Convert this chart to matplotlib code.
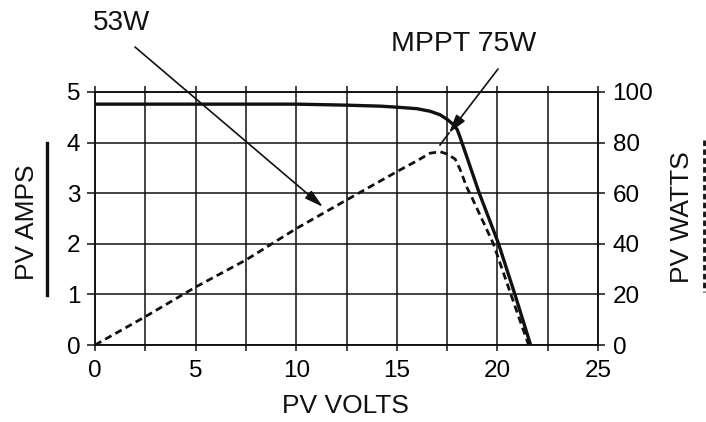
import numpy as np
import matplotlib
matplotlib.use("Agg")
import matplotlib.pyplot as plt
from matplotlib.lines import Line2D

plt.rcParams['font.family'] = ['Liberation Sans', 'DejaVu Sans']

# ---- data ----
iv_volts = [0, 5, 10, 12.5, 14.2, 15, 16.0, 16.65, 17.15, 17.5, 17.8, 18.0, 18.15,
            19.1, 20.04, 20.87, 21.65]
iv_amps = [4.76, 4.76, 4.76, 4.74, 4.72, 4.70, 4.67, 4.62, 4.55, 4.46, 4.36, 4.26, 4.10,
           3.0, 2.02, 1.0, 0.0]

pw_volts = [0, 2.5, 5, 7.5, 10, 12.5, 15, 16, 16.65, 17.15, 17.5, 17.9, 18.14, 18.47,
            18.75, 19.8, 20.67, 21.55]
pw_watts = [0, 11.2, 22.9, 33.6, 46.0, 57.3, 68.5, 72.8, 75.8, 76.4, 75.5, 73.5, 69.5,
            62.5, 58.0, 40.0, 20.0, 0.0]

x_major = [0, 5, 10, 15, 20, 25]
x_minor = [2.5, 7.5, 12.5, 17.5, 22.5]
amps_ticks = [0, 1, 2, 3, 4, 5]
watts_ticks = [0, 20, 40, 60, 80, 100]

label_53 = "53W"
label_mppt = "MPPT 75W"

W, H = 706, 422
fig = plt.figure(figsize=(W / 100, H / 100), dpi=100)
ax = fig.add_axes([95 / W, (H - 345) / H, 503 / W, 253 / H])
ax2 = ax.twinx()

ink = '#111111'
grid_lw = 1.1

ax.set_xlim(0, 25)
ax.set_ylim(0, 5)
ax2.set_ylim(0, 100)

ax.set_xticks(x_major)
ax.set_xticks(x_minor, minor=True)
ax.set_yticks(amps_ticks)
ax2.set_yticks(watts_ticks)

ax.grid(True, which='both', axis='x', color=ink, lw=grid_lw)
ax.grid(True, which='major', axis='y', color=ink, lw=grid_lw)
ax.set_axisbelow(True)

for a in (ax, ax2):
    for s in a.spines.values():
        s.set_color(ink)
        s.set_linewidth(grid_lw)

ax.tick_params(axis='x', which='both', direction='out', length=4.5, width=grid_lw,
               color=ink, top=True, labelsize=17.5, pad=6)
ax.tick_params(axis='x', which='both', top=True, labeltop=False)
ax.tick_params(axis='y', direction='out', length=6, width=grid_lw, color=ink,
               labelsize=17.5, pad=4.5)
ax2.tick_params(axis='y', direction='out', length=5, width=grid_lw, color=ink,
                labelsize=17.5, pad=5.5)

ax.plot(iv_volts, iv_amps, color=ink, lw=2.4, solid_joinstyle='round', zorder=3)
ax2.plot(pw_volts, pw_watts, color=ink, lw=2.0, linestyle=(0, (2.6, 1.6)), zorder=3)

# ---- annotations (pixel positions converted to amps-axis data) ----
def px2data(px, py):
    return ((px - 95) / 503 * 25, (345 - py) / 253 * 5)

ax.annotate('', xy=px2data(323, 207), xytext=px2data(135, 47),
            arrowprops=dict(arrowstyle='-|>,head_length=0.75,head_width=0.2',
                            mutation_scale=15, lw=1.2, color=ink, shrinkA=0, shrinkB=0),
            annotation_clip=False)
ax.annotate('', xy=px2data(449, 133), xytext=px2data(498, 69),
            arrowprops=dict(arrowstyle='-|>,head_length=0.75,head_width=0.22',
                            mutation_scale=15, lw=1.2, color=ink, shrinkA=0, shrinkB=0),
            annotation_clip=False)
p1, p2 = px2data(449, 133), px2data(440, 145)
ax.plot([p1[0], p2[0]], [p1[1], p2[1]], color=ink, lw=1.2, clip_on=False)

fig.text(121 / W, 1 - 23 / H, label_53, ha='center', va='center', fontsize=20, color=ink)
fig.text(464 / W, 1 - 44 / H, label_mppt, ha='center', va='center', fontsize=20.5, color=ink)

# ---- axis titles with line-style keys ----
fig.text(345 / W, 1 - 406 / H, "PV VOLTS", ha='center', va='center', fontsize=19, color=ink)
fig.text(27 / W, 1 - 222 / H, "PV AMPS", ha='center', va='center', rotation=90,
         fontsize=19, color=ink)
fig.text(682 / W, 1 - 217 / H, "PV WATTS", ha='center', va='center', rotation=90,
         fontsize=19, color=ink)
fig.add_artist(Line2D([46.5 / W, 46.5 / W], [1 - 143 / H, 1 - 295 / H], color=ink, lw=2.4))
fig.add_artist(Line2D([704 / W, 704 / W], [1 - 140 / H, 1 - 292 / H], color=ink, lw=2.0,
                      linestyle=(0, (2.0, 1.2))))

fig.savefig("out.png", dpi=100)
